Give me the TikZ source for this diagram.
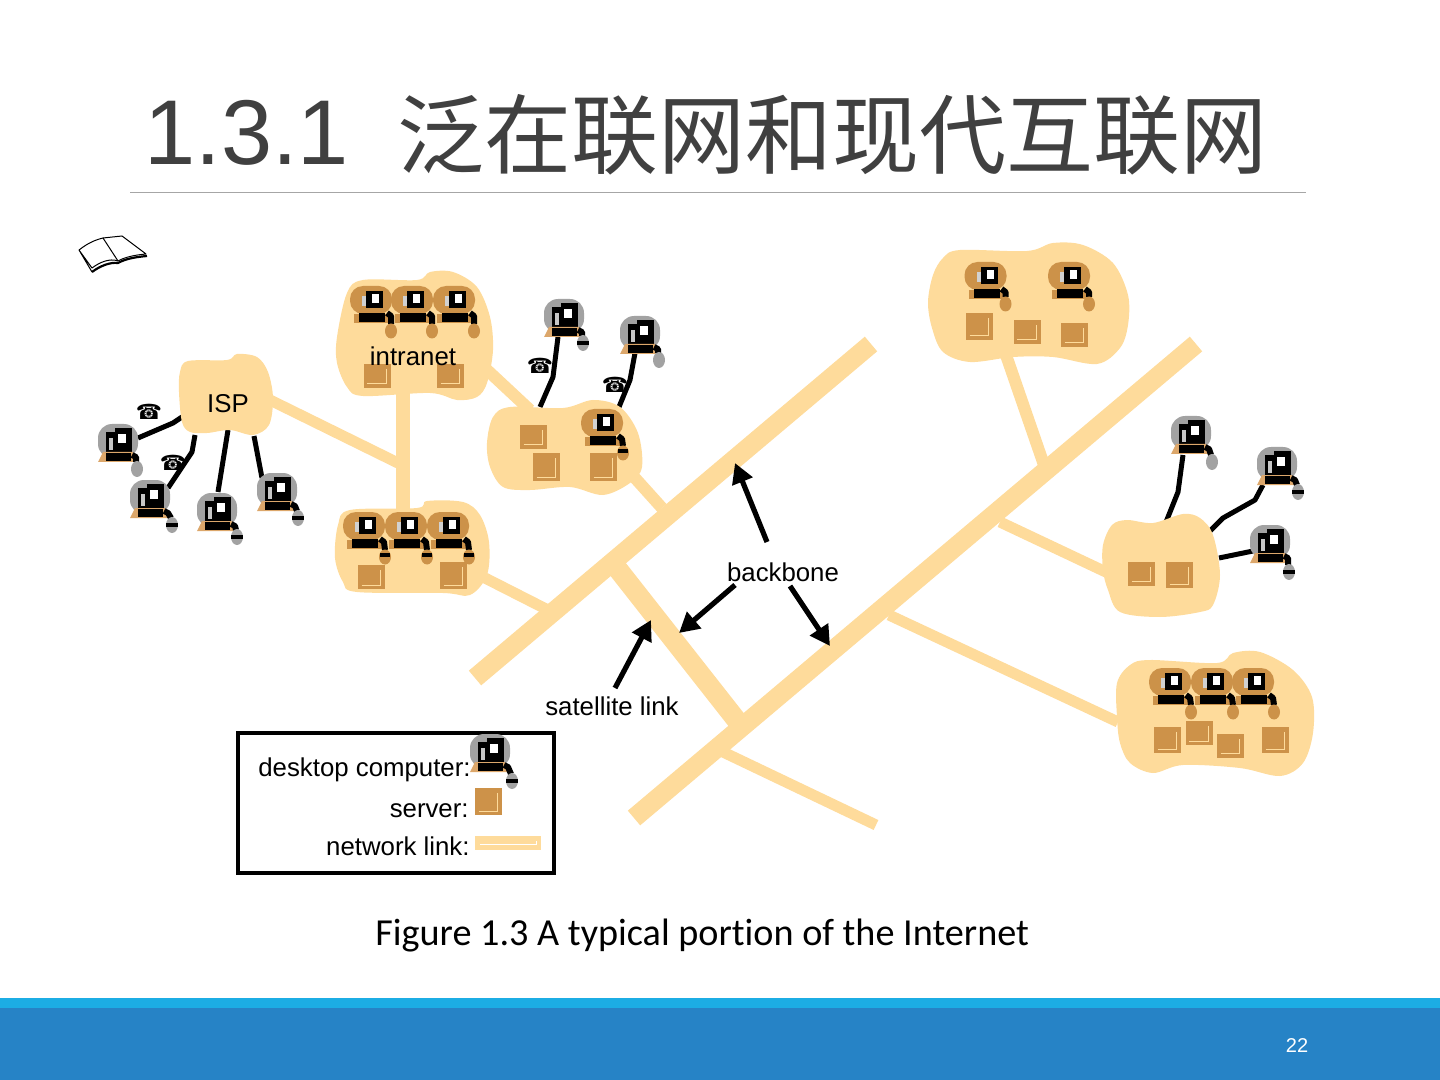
\documentclass[tikz,border=0pt]{standalone}
\usepackage{fontspec}
\setmainfont{Liberation Sans}
\newfontfamily\cjk{Noto Sans CJK SC}
\newfontfamily\capfont[Ligatures=NoCommon]{Carlito}
\newfontfamily\symfont{DejaVu Sans}
\usetikzlibrary{arrows.meta}
\definecolor{tanlink}{HTML}{FEDB9B}
\definecolor{haloG}{HTML}{A2A2A2}
\definecolor{haloB}{HTML}{CC9249}
\definecolor{baseT}{HTML}{DCA76B}
\definecolor{srvC}{HTML}{CD9249}
\definecolor{titleC}{HTML}{404040}
\definecolor{barA}{HTML}{1CADE4}
\definecolor{barB}{HTML}{2683C6}
\tikzset{
  link/.style={draw=tanlink,line width=#1},
  wire/.style={draw=black,line width=2.5pt,line join=round},
  arw/.style={draw=black,line width=2.6pt,-{Triangle[length=10pt,width=10.5pt]}},
  cloud/.style={fill=tanlink},
  lbl/.style={inner sep=0pt,font=\fontsize{12.9}{15}\selectfont,text=black},
  phone/.style={inner sep=0pt,font=\symfont\fontsize{10.5}{12}\selectfont,text=black},
  pics/pcg/.style n args={3}{code={
    \fill[haloG,rounded corners=7pt] (-20,-17) rectangle (20,17);
    \fill[black] (-12,-9) rectangle (14,11);
    \fill[black] (-3,-13) rectangle (14,-9);
    \fill[white] (0,-7) rectangle (8,2);
    \fill[haloG!60] (-9,-3) rectangle (-5,9);
    \fill[baseT] (-20,21) -- (-15,11) -- (15,11) -- (19,21) -- cycle;
    \fill[black] (-12,12) rectangle (13,20);
    \draw[black,line width=3pt,line join=round] (14,14) -- (18,16) -- (#1-1,#2-7);
    \fill[haloG] (#1,#2) ellipse (6 and 8);
    \fill[#3] (#1-6,#2-2) rectangle (#1+6,#2+2);
  }},
  pics/pcb/.style n args={3}{code={
    \fill[haloB,rounded corners=6.5pt] (-21,-14) rectangle (21,14);
    \fill[black] (-5,-9) rectangle (12,8);
    \fill[white] (1,-6) rectangle (8,3);
    \fill[haloG!50] (-9,-4) rectangle (-5,6);
    \fill[haloB] (-17,14) rectangle (20,23);
    \fill[black] (-12,13) rectangle (14,22);
    \draw[black,line width=3pt,line join=round] (16,13) -- (20,16) -- (#1,#2-7);
    \fill[haloB] (#1,#2) ellipse (6 and 7.5);
    \fill[#3] (#1-5,#2-4) rectangle (#1+5,#2);
  }},
  pics/srv/.style={code={
    \fill[srvC] (-13.5,-#1) rectangle (13.5,#1);
    \draw[tanlink,line width=0.5pt] (-10,#1-4) -- (9,#1-4) -- (9,-#1+5);
  }}
}
\begin{document}
\begin{tikzpicture}[x=0.5pt,y=-0.5pt]
\useasboundingbox (0,0) rectangle (1440,1080);
% slide furniture
\fill[barA] (0,998) rectangle (1440,1008);
\fill[barB] (0,1008) rectangle (1440,1080);
\node[anchor=base west,inner sep=0pt,text=titleC,font=\fontsize{46}{50}\selectfont] (title) at (144,165) {1.3.1\hspace{24pt}\raisebox{-1.5pt}{\cjk\fontsize{43.5}{50}\selectfont 泛在联网和现代互联网}};
\coordinate (ruleL) at (130,193);
\coordinate (ruleR) at (1306,193);
\draw[gray!70,line width=0.5pt] (ruleL) -- (ruleR);
\node[anchor=base,inner sep=0pt,text=white,font=\fontsize{10}{12}\selectfont] (page) at (1297,1052) {22};
\node[anchor=base west,inner sep=0pt,font=\capfont\fontsize{19.1}{22}\selectfont,text=black] (caption) at (375,945) {Figure 1.3 A typical portion of the Internet};
% book
\fill[white] (79,250) -- (103,238) -- (122,236) -- (146,254) -- (118,261) -- (92,272) -- cycle;
\draw[black,line width=0.5pt,line join=round] (79,250) .. controls (88,243) and (95,240) .. (103,238) -- (122,236) -- (146,254) .. controls (135,255) and (125,257) .. (118,261) .. controls (110,258) and (100,262) .. (92,268) -- (79,250) -- (92,272);
\draw[black,line width=0.5pt] (103,238) -- (118,261);
\draw[black,line width=1.1pt] (92,272) .. controls (100,266) and (110,262) .. (118,263) .. controls (125,259) and (135,257) .. (147,256);
% links (backbones and branches)
\foreach \n/\x/\y in {bbA1/871/344,bbA2/475/678,bbB1/1196/344,bbB2/634/818,satA/617/568,satB/738/722,brA/723/752,brB/876/825,brC/889/615,brD/1118/722,brE/1000/522,brF/1108/573,brG/1006/355,brH/1044/465,ispR/270/400,ispV/398/463,vTop/403/393,vBot/403/512,inA/485/368,inB/530/410,mdA/635/478,mdB/662/508,llA/485/578,llB/548/610}
  \coordinate (\n) at (\x,\y);
\draw[link=9.6pt] (bbA1) -- (bbA2);
\draw[link=9.6pt] (bbB1) -- (bbB2);
\draw[link=10pt] (satA) -- (satB);
\draw[link=5.5pt] (brA) -- (brB);
\draw[link=5.5pt] (brC) -- (brD);
\draw[link=5.5pt] (brE) -- (brF);
\draw[link=6pt] (brG) -- (brH);
\draw[link=5.5pt] (ispR) -- (ispV);
\draw[link=7pt] (vTop) -- (vBot);
\draw[link=6pt] (inA) -- (inB);
\draw[link=6pt] (mdA) -- (mdB);
\draw[link=5.5pt] (llA) -- (llB);
% wires
\foreach \n/\x/\y in {wA1/182/417,wA2/173/423,wA3/138/438,wB1/195/435,wB2/192/452,wB3/168/488,wC1/228/430,wC2/218/492,wD1/254/436,wD2/262/478,wE1/558/337,wE2/553/377,wE3/540/407,wF1/635/353,wF2/630/380,wF3/619/407,wG1/1183/455,wG2/1178/492,wG3/1166/522,wH1/1263/485,wH2/1255/500,wH3/1223/518,wH4/1210/531,wI1/1219/558,wI2/1253/551}
  \coordinate (\n) at (\x,\y);
\draw[wire] (wA1) -- (wA2) -- (wA3);
\draw[wire] (wB1) -- (wB2) -- (wB3);
\draw[wire] (wC1) -- (wC2);
\draw[wire] (wD1) -- (wD2);
\draw[wire] (wE1) -- (wE2) -- (wE3);
\draw[wire] (wF1) -- (wF2) -- (wF3);
\draw[wire] (wG1) -- (wG2) -- (wG3);
\draw[wire] (wH1) -- (wH2) -- (wH3) -- (wH4);
\draw[wire] (wI1) -- (wI2);
% clouds
\fill[cloud] plot[smooth cycle,tension=0.55] coordinates {(337,337)(347,293)(363,280)(417,280)(430,272)(453,272)(477,287)(490,317)(493,350)(487,383)(477,397)(457,400)(430,393)(363,396)(347,387)(337,363)};
\fill[cloud] plot[smooth cycle,tension=0.55] coordinates {(180,372)(188,361)(227,360)(237,354)(257,357)(268,372)(273,398)(269,425)(253,435)(230,430)(207,433)(190,432)(182,422)(179,392)};
\fill[cloud] plot[smooth cycle,tension=0.55] coordinates {(487,443)(493,417)(510,407)(563,408)(593,400)(620,407)(638,433)(642,467)(630,483)(603,495)(570,487)(530,490)(503,487)(490,467)};
\fill[cloud] plot[smooth cycle,tension=0.55] coordinates {(335,558)(338,525)(350,510)(417,508)(427,501)(463,502)(480,515)(489,542)(487,575)(470,595)(443,593)(357,592)(343,582)};
\fill[cloud] plot[smooth cycle,tension=0.55] coordinates {(928,302)(933,275)(943,258)(960,250)(1027,251)(1053,243)(1083,245)(1113,263)(1128,295)(1128,325)(1120,348)(1097,364)(1053,357)(1013,357)(970,362)(943,352)(932,328)};
\fill[cloud] plot[smooth cycle,tension=0.55] coordinates {(1103,545)(1112,525)(1127,520)(1153,523)(1183,514)(1200,518)(1213,535)(1220,575)(1213,605)(1200,612)(1160,617)(1120,612)(1108,590)(1103,570)};
\fill[cloud] plot[smooth cycle,tension=0.55] coordinates {(1117,717)(1117,683)(1130,665)(1150,660)(1217,663)(1233,653)(1260,652)(1293,670)(1312,697)(1313,733)(1303,763)(1280,776)(1240,768)(1183,765)(1153,773)(1130,763)(1120,743)};
% servers
\pic at (377,376) {srv=12};
\pic at (450.5,376) {srv=12};
\pic at (533.5,437) {srv=12};
\pic at (546.5,467) {srv=14};
\pic at (603.5,467) {srv=14};
\pic at (979.5,326.5) {srv=13.5};
\pic at (1027,332) {srv=12};
\pic at (1074.5,335) {srv=12};
\pic at (1141.5,573.5) {srv=12};
\pic at (1179.5,575) {srv=13};
\pic at (1167.5,740) {srv=13};
\pic at (1199,733) {srv=12};
\pic at (1230.5,745.5) {srv=12};
\pic at (1275.5,740) {srv=13};
\pic at (371.5,577) {srv=12};
\pic at (453.5,575.5) {srv=13.5};
\pic at (488.5,801.5) {srv=13.5};
% brown computers
\foreach \x in {371,412,454} \pic at (\x,300) {pcb={20}{31}{haloB}};
\foreach \x in {985.5,1069} \pic at (\x,276) {pcb={20}{28}{haloB}};
\foreach \x in {1170,1212,1253} \pic at (\x,682) {pcb={21}{30}{haloB}};
\pic at (602,423) {pcb={21}{30}{black}};
\foreach \x in {364,406,448} \pic at (\x,526) {pcb={21}{31}{black}};
% grey computers
\pic at (564,316) {pcg={19}{27}{black}};
\pic at (640,333) {pcg={19}{27}{haloG}};
\pic at (118,441) {pcg={19}{28}{haloG}};
\pic at (150,497) {pcg={22}{28}{black}};
\pic at (217,510) {pcg={20}{27}{black}};
\pic at (277,490) {pcg={21}{28}{black}};
\pic at (1191,433) {pcg={21}{29}{haloG}};
\pic at (1277,464) {pcg={21}{28}{black}};
\pic at (1270,542) {pcg={19}{30}{black}};
% phones
\node[phone] (ph1) at (149,412) {☎};
\node[phone] (ph2) at (173,463) {☎};
\node[phone] (ph3) at (540,366) {☎};
\node[phone] (ph4) at (615,385) {☎};
% labels and arrows
\node[lbl] (intranet) at (413,356) {intranet};
\node[lbl] (isp) at (228,404) {ISP};
\node[lbl] (backbone) at (783,572) {backbone};
\node[lbl] (satlink) at (612,706) {satellite link};
\foreach \n/\x/\y in {bA/767/542,bAe/735/463,bB/735/585,bBe/679/633,bC/790/586,bCe/830/646,sA/615/688,sAe/651/620}
  \coordinate (\n) at (\x,\y);
\draw[arw] (bA) -- (bAe);
\draw[arw] (bB) -- (bBe);
\draw[arw] (bC) -- (bCe);
\draw[arw] (sA) -- (sAe);
% legend
\node[draw=black,line width=1.9pt,fill=none,minimum width=158pt,minimum height=70pt,inner sep=0pt] (legend) at (396,803) {};
\node[lbl,anchor=base east] (lgA) at (471,776) {desktop computer:};
\node[lbl,anchor=base east] (lgB) at (469,817) {server:};
\node[lbl,anchor=base east] (lgC) at (470,855) {network link:};
\pic at (490,751) {pcg={22}{30}{black}};
\fill[tanlink] (475,836) rectangle (541,850);
\draw[white,line width=0.4pt] (480,844) -- (536,844) -- (536,841);
\end{tikzpicture}
\end{document}
